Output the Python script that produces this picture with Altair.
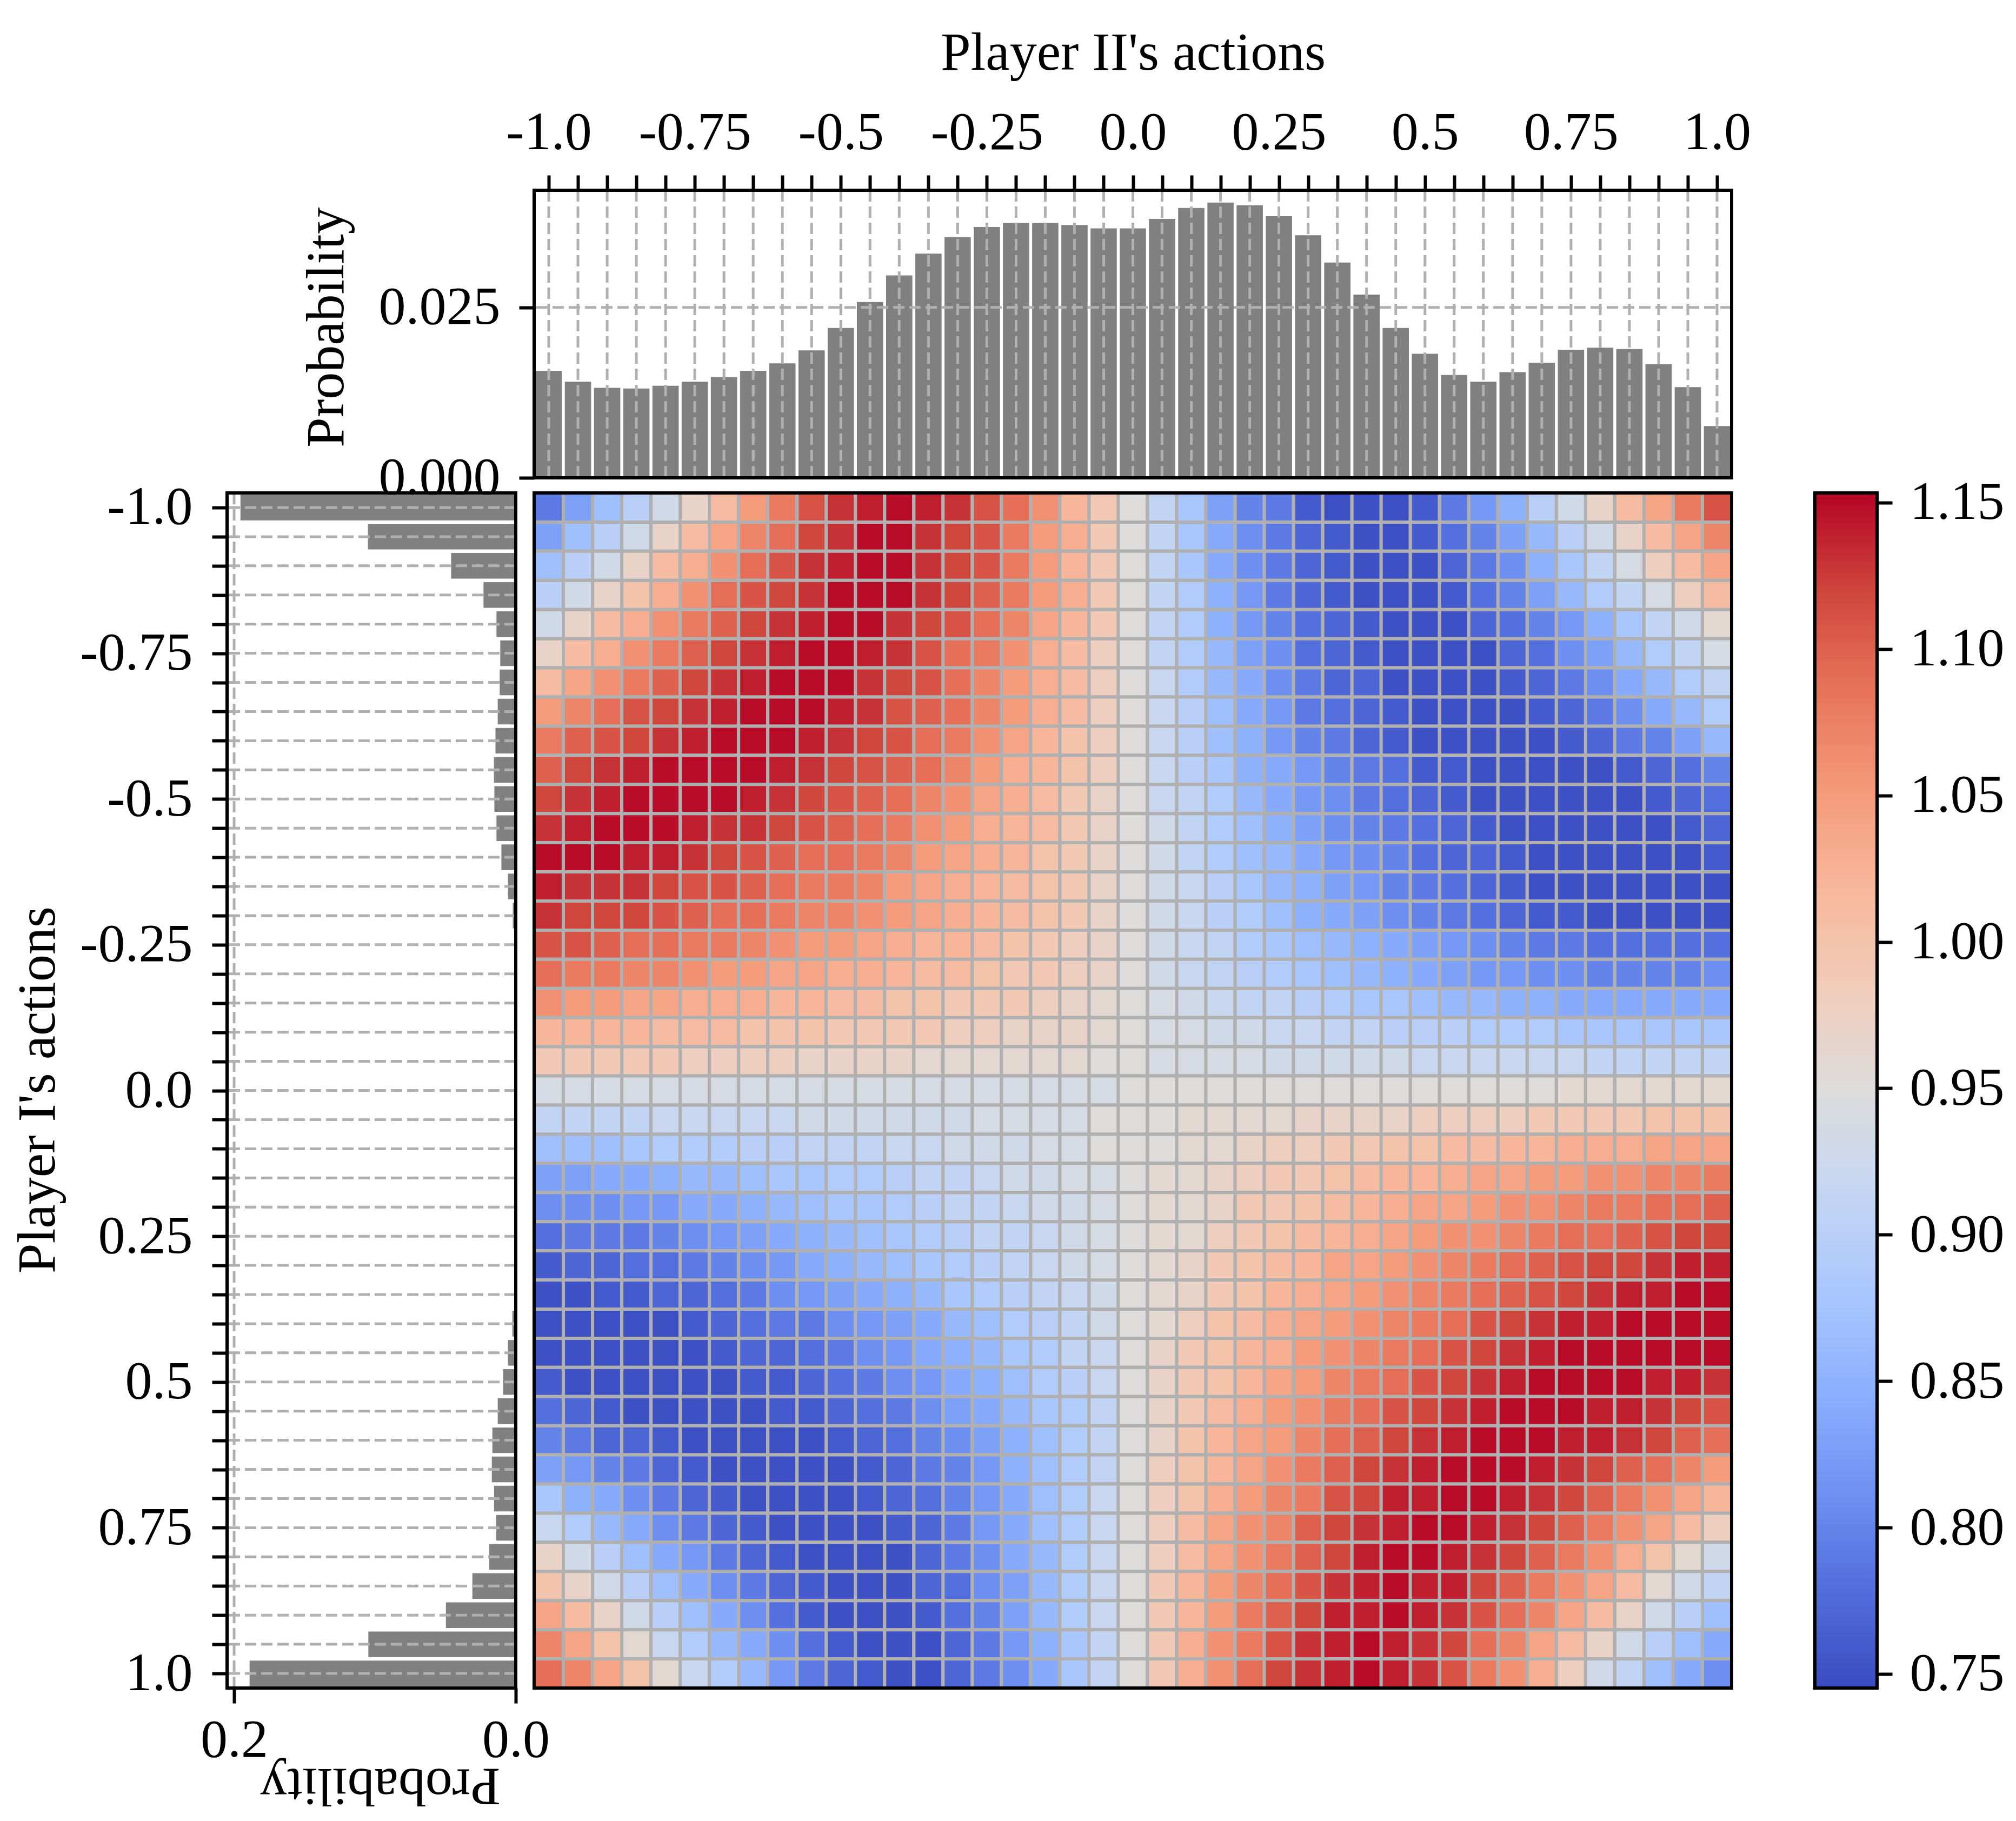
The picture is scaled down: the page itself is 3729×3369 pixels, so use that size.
import altair as alt
import pandas as pd

# ---------------- data ----------------
actions = [-1.0, -0.95, -0.9, -0.85, -0.8, -0.75, -0.7, -0.65, -0.6, -0.55, -0.5,
           -0.45, -0.4, -0.35, -0.3, -0.25, -0.2, -0.15, -0.1, -0.05, 0.0,
           0.05, 0.1, 0.15, 0.2, 0.25, 0.3, 0.35, 0.4, 0.45, 0.5,
           0.55, 0.6, 0.65, 0.7, 0.75, 0.8, 0.85, 0.9, 0.95, 1.0]

tick_label_values = [-1.0, -0.75, -0.5, -0.25, 0.0, 0.25, 0.5, 0.75, 1.0]
tick_label_text = ["-1.0", "-0.75", "-0.5", "-0.25", "0.0", "0.25", "0.5", "0.75", "1.0"]

# Player II marginal (top histogram)
p2_prob = [0.0157, 0.0141, 0.0132, 0.0131, 0.0135, 0.0141, 0.0148, 0.0157, 0.0168, 0.0187,
           0.0220, 0.0258, 0.0297, 0.0329, 0.0353, 0.0368, 0.0374, 0.0374, 0.0371, 0.0366,
           0.0366, 0.0380, 0.0396, 0.0404, 0.0400, 0.0384, 0.0356, 0.0316, 0.0269, 0.0220,
           0.0182, 0.0151, 0.0141, 0.0155, 0.0169, 0.0188, 0.0191, 0.0189, 0.0167, 0.0133,
           0.0076]
top_y_ticks = [0.0, 0.025]
top_y_max = 0.0422

# Player I marginal (left histogram)
p1_prob = [0.1955, 0.1050, 0.0459, 0.0229, 0.0137, 0.0110, 0.0114, 0.0128, 0.0144, 0.0155,
           0.0152, 0.0137, 0.0102, 0.0055, 0.0021, 0.0, 0.0, 0.0, 0.0, 0.0,
           0.0, 0.0, 0.0, 0.0, 0.0, 0.0, 0.0, 0.0, 0.0024, 0.0055,
           0.0090, 0.0128, 0.0166, 0.0170, 0.0154, 0.0139, 0.0189, 0.0308, 0.0496, 0.1047,
           0.1890]
left_x_ticks = [0.0, 0.2]
left_x_max = 0.205

# payoff (x100), rows = Player I action (-1 .. 1), columns Player II -1.0 .. 0.0
payoff_left = [
    [79, 83, 87, 90, 93, 97, 101, 105, 108, 111, 113, 114, 115, 114, 113, 111, 109, 106, 102, 99, 95],
    [83, 87, 90, 93, 97, 101, 104, 107, 109, 112, 113, 115, 115, 113, 112, 111, 108, 105, 103, 99, 95],
    [87, 90, 93, 97, 101, 103, 106, 109, 111, 113, 114, 115, 115, 113, 112, 111, 108, 105, 102, 99, 95],
    [90, 93, 97, 100, 103, 106, 109, 111, 112, 113, 115, 115, 115, 113, 112, 110, 108, 105, 103, 99, 95],
    [93, 97, 101, 103, 106, 108, 110, 112, 113, 114, 115, 115, 113, 112, 111, 109, 107, 104, 102, 99, 95],
    [97, 101, 103, 106, 108, 110, 112, 113, 114, 115, 115, 114, 113, 111, 109, 108, 106, 103, 101, 98, 95],
    [101, 104, 106, 108, 110, 112, 113, 114, 115, 115, 115, 113, 112, 111, 109, 107, 105, 103, 101, 98, 95],
    [105, 107, 109, 111, 112, 113, 114, 115, 115, 115, 114, 113, 111, 110, 109, 107, 105, 103, 101, 98, 95],
    [108, 110, 111, 112, 113, 114, 115, 115, 115, 114, 113, 112, 111, 109, 108, 106, 104, 102, 100, 98, 95],
    [110, 112, 113, 114, 115, 115, 115, 115, 114, 113, 112, 111, 110, 109, 107, 105, 103, 102, 100, 98, 95],
    [112, 113, 114, 115, 115, 115, 115, 114, 113, 112, 111, 110, 109, 107, 106, 104, 103, 101, 99, 97, 95],
    [113, 114, 115, 115, 115, 114, 113, 113, 112, 111, 110, 109, 108, 106, 105, 103, 102, 101, 99, 97, 95],
    [115, 115, 115, 114, 114, 113, 112, 111, 110, 109, 109, 108, 107, 105, 104, 103, 102, 100, 99, 97, 95],
    [114, 113, 113, 113, 112, 111, 111, 110, 109, 108, 108, 107, 105, 104, 103, 102, 101, 100, 99, 97, 95],
    [113, 112, 112, 112, 111, 110, 109, 109, 108, 107, 107, 106, 105, 104, 103, 102, 101, 100, 99, 97, 95],
    [111, 111, 110, 109, 109, 108, 108, 107, 106, 105, 105, 104, 103, 102, 102, 101, 100, 99, 98, 97, 95],
    [109, 108, 108, 107, 107, 106, 105, 105, 104, 104, 103, 103, 102, 101, 101, 100, 99, 99, 98, 97, 95],
    [106, 105, 105, 104, 104, 103, 103, 103, 102, 102, 101, 101, 100, 100, 99, 99, 99, 98, 97, 96, 95],
    [102, 102, 102, 102, 101, 101, 101, 100, 100, 100, 99, 99, 99, 99, 98, 98, 97, 97, 97, 96, 95],
    [99, 99, 99, 99, 99, 98, 98, 98, 98, 97, 97, 97, 97, 96, 96, 96, 96, 96, 96, 95, 95],
    [94, 94, 94, 94, 94, 94, 94, 94, 94, 94, 94, 94, 94, 94, 94, 94, 94, 94, 94, 94, 95],
    [91, 91, 91, 91, 92, 92, 92, 92, 92, 93, 93, 93, 93, 93, 93, 94, 94, 94, 94, 95, 95],
    [87, 87, 87, 88, 89, 89, 89, 90, 90, 91, 91, 91, 92, 92, 93, 93, 93, 94, 94, 95, 95],
    [83, 83, 84, 84, 85, 86, 86, 87, 88, 88, 89, 89, 90, 91, 91, 92, 93, 93, 94, 94, 95],
    [81, 81, 81, 82, 82, 84, 84, 85, 86, 87, 88, 88, 89, 90, 91, 91, 92, 93, 93, 94, 95],
    [78, 79, 79, 79, 80, 81, 82, 83, 84, 85, 86, 87, 88, 89, 90, 91, 91, 92, 93, 94, 95],
    [76, 77, 77, 78, 78, 79, 80, 81, 82, 84, 85, 86, 87, 88, 89, 90, 91, 92, 93, 94, 95],
    [75, 75, 76, 76, 77, 77, 78, 79, 81, 82, 83, 84, 85, 86, 88, 89, 90, 91, 92, 93, 95],
    [75, 75, 75, 75, 75, 76, 77, 78, 79, 79, 81, 82, 83, 84, 86, 87, 89, 90, 91, 93, 95],
    [75, 75, 75, 75, 75, 75, 76, 77, 77, 78, 79, 81, 82, 84, 85, 86, 88, 89, 91, 92, 95],
    [76, 75, 75, 75, 75, 75, 75, 76, 76, 77, 78, 79, 81, 82, 84, 85, 87, 89, 90, 92, 95],
    [78, 77, 76, 75, 75, 75, 75, 75, 76, 76, 77, 78, 79, 81, 83, 84, 86, 88, 89, 91, 95],
    [80, 79, 77, 77, 76, 75, 75, 75, 75, 75, 76, 77, 78, 80, 81, 83, 85, 87, 89, 91, 95],
    [83, 82, 80, 79, 77, 76, 75, 75, 75, 75, 75, 76, 77, 79, 80, 82, 85, 87, 89, 91, 95],
    [88, 85, 84, 81, 79, 77, 76, 75, 75, 75, 75, 76, 77, 78, 80, 82, 84, 87, 89, 92, 95],
    [92, 89, 86, 84, 81, 79, 77, 76, 75, 75, 75, 75, 76, 77, 79, 82, 84, 87, 89, 92, 95],
    [97, 93, 90, 87, 84, 82, 79, 77, 76, 75, 75, 75, 75, 77, 79, 81, 84, 86, 89, 92, 95],
    [100, 97, 93, 90, 87, 84, 81, 79, 77, 76, 75, 75, 75, 77, 78, 81, 83, 86, 89, 92, 95],
    [104, 101, 97, 93, 90, 87, 84, 81, 78, 76, 75, 75, 75, 76, 78, 80, 83, 86, 89, 92, 95],
    [107, 104, 100, 96, 92, 89, 86, 84, 81, 78, 76, 75, 75, 75, 77, 79, 82, 85, 88, 91, 95],
    [109, 107, 104, 100, 96, 92, 89, 86, 82, 79, 77, 76, 75, 75, 77, 79, 81, 84, 88, 91, 95],
]

# payoff (x100), columns Player II 0.05 .. 1.0
payoff_right = [
    [91, 88, 83, 80, 79, 76, 75, 75, 75, 76, 79, 82, 85, 90, 93, 97, 101, 104, 108, 111],
    [91, 88, 84, 81, 79, 77, 76, 75, 75, 76, 78, 80, 83, 86, 90, 93, 97, 101, 104, 107],
    [91, 88, 84, 81, 79, 77, 76, 75, 75, 75, 77, 79, 81, 85, 88, 91, 94, 98, 101, 104],
    [91, 89, 85, 82, 79, 77, 76, 75, 75, 75, 76, 78, 80, 83, 86, 89, 91, 94, 98, 101],
    [91, 89, 85, 82, 80, 78, 77, 76, 75, 75, 75, 77, 78, 80, 82, 85, 88, 91, 93, 96],
    [91, 89, 86, 83, 81, 78, 77, 76, 75, 75, 75, 75, 77, 78, 81, 83, 86, 89, 91, 94],
    [92, 89, 86, 84, 81, 79, 77, 77, 75, 75, 75, 75, 76, 77, 79, 81, 84, 86, 89, 91],
    [92, 90, 87, 84, 82, 79, 78, 77, 76, 75, 75, 75, 75, 76, 77, 79, 81, 84, 86, 89],
    [92, 90, 87, 85, 82, 80, 79, 77, 76, 75, 75, 75, 75, 75, 76, 77, 79, 80, 83, 86],
    [92, 90, 88, 85, 84, 82, 80, 79, 78, 76, 76, 75, 75, 75, 75, 75, 76, 77, 78, 80],
    [92, 91, 89, 86, 84, 82, 81, 79, 78, 77, 76, 75, 75, 75, 75, 75, 75, 76, 77, 78],
    [93, 91, 89, 87, 85, 83, 81, 80, 79, 78, 77, 76, 75, 75, 75, 75, 75, 75, 76, 77],
    [93, 91, 89, 87, 86, 84, 82, 81, 80, 78, 77, 77, 76, 75, 75, 75, 75, 75, 75, 76],
    [93, 92, 90, 88, 86, 85, 83, 82, 80, 79, 78, 77, 76, 75, 75, 75, 75, 75, 75, 75],
    [93, 92, 90, 89, 87, 85, 84, 83, 81, 80, 79, 78, 77, 76, 76, 75, 75, 75, 75, 75],
    [93, 92, 91, 89, 88, 87, 86, 85, 84, 83, 82, 81, 80, 79, 79, 78, 78, 78, 78, 78],
    [93, 92, 91, 90, 89, 88, 87, 86, 85, 84, 83, 82, 82, 81, 81, 80, 80, 80, 80, 81],
    [94, 93, 92, 91, 91, 90, 89, 88, 88, 87, 86, 86, 85, 85, 84, 84, 84, 84, 84, 84],
    [94, 94, 93, 93, 92, 92, 91, 91, 90, 90, 90, 89, 89, 89, 88, 88, 88, 88, 88, 88],
    [94, 94, 94, 94, 93, 93, 93, 93, 93, 92, 92, 92, 92, 92, 92, 91, 91, 91, 91, 91],
    [95, 95, 95, 95, 95, 95, 95, 95, 95, 95, 95, 95, 95, 95, 96, 96, 96, 96, 96, 96],
    [95, 96, 96, 96, 96, 97, 97, 97, 97, 98, 98, 98, 98, 99, 99, 99, 99, 100, 100, 100],
    [95, 96, 96, 97, 98, 98, 99, 99, 100, 100, 101, 101, 102, 102, 103, 103, 103, 104, 104, 104],
    [96, 96, 97, 98, 99, 99, 100, 101, 102, 102, 103, 104, 104, 105, 105, 106, 106, 107, 107, 108],
    [96, 96, 97, 99, 99, 100, 101, 102, 103, 104, 104, 105, 106, 106, 107, 108, 108, 109, 109, 110],
    [96, 96, 98, 99, 100, 101, 102, 103, 104, 105, 106, 106, 107, 108, 109, 109, 110, 111, 112, 112],
    [96, 97, 99, 100, 101, 102, 104, 104, 105, 106, 107, 108, 109, 110, 111, 112, 112, 113, 114, 114],
    [96, 97, 99, 100, 102, 103, 104, 105, 106, 107, 108, 109, 110, 111, 112, 113, 114, 114, 115, 115],
    [96, 98, 100, 101, 103, 104, 105, 106, 107, 108, 109, 111, 112, 113, 114, 114, 115, 115, 115, 115],
    [97, 99, 100, 102, 103, 105, 106, 107, 108, 109, 111, 112, 113, 114, 115, 115, 115, 115, 115, 115],
    [97, 99, 100, 102, 104, 105, 107, 108, 109, 111, 112, 113, 114, 115, 115, 115, 115, 114, 114, 113],
    [97, 99, 101, 103, 105, 106, 108, 109, 111, 112, 113, 114, 115, 115, 115, 114, 114, 113, 112, 111],
    [97, 100, 102, 104, 105, 107, 109, 110, 112, 113, 114, 115, 115, 115, 114, 114, 113, 112, 110, 109],
    [98, 100, 102, 104, 106, 108, 110, 112, 113, 114, 115, 115, 115, 114, 113, 112, 110, 109, 107, 105],
    [98, 100, 103, 105, 107, 108, 111, 112, 114, 114, 115, 115, 114, 113, 112, 110, 108, 106, 104, 102],
    [98, 101, 104, 106, 107, 110, 112, 113, 114, 115, 115, 114, 113, 112, 110, 108, 106, 104, 101, 98],
    [98, 101, 104, 106, 108, 110, 112, 114, 115, 115, 114, 113, 112, 110, 108, 106, 103, 100, 96, 93],
    [99, 102, 105, 107, 109, 111, 113, 114, 115, 114, 114, 112, 110, 108, 106, 104, 101, 96, 93, 91],
    [99, 102, 105, 108, 110, 112, 114, 114, 115, 114, 113, 111, 109, 107, 104, 101, 97, 93, 90, 87],
    [99, 103, 106, 108, 111, 113, 114, 115, 114, 113, 112, 109, 107, 104, 101, 97, 93, 90, 87, 84],
    [99, 103, 106, 109, 112, 113, 114, 115, 114, 113, 111, 108, 106, 103, 98, 93, 91, 87, 84, 81],
]

# colour bar
cb_ticks = [0.75, 0.80, 0.85, 0.90, 0.95, 1.00, 1.05, 1.10, 1.15]
vmin, vmax = 0.7452, 1.1533
cmap_pos = [0.0, 1 / 12, 1 / 6, 0.25, 1 / 3, 5 / 12, 0.5, 7 / 12, 2 / 3, 0.75, 5 / 6, 11 / 12, 1.0]
cmap_colors = ["#3b4cc0", "#536edd", "#6f92f3", "#8db0fe", "#aac7fd", "#c5d6f2", "#dddcdc",
               "#f0cdbb", "#f7b89c", "#f49a7b", "#e7745b", "#d0473d", "#b40426"]

# ---------------- style ----------------
FONT = "Liberation Serif"
FS = 100
GRID = "#b0b0b0"
FRAME_W = 6
ax_common = dict(labelFont=FONT, titleFont=FONT, labelFontSize=FS, titleFontSize=FS,
                 titleFontWeight="normal", labelColor="black", titleColor="black",
                 tickColor="black", tickWidth=6, tickSize=28, domain=False, grid=False,
                 labelOverlap=False, labelFlush=False, labelLimit=3000, zindex=1)


def lab_expr(vals, texts):
    parts = [f"abs(datum.value - ({v})) < 0.001 ? '{t}'" for v, t in zip(vals, texts)]
    return " : ".join(parts) + " : ''"


action_labels = lab_expr(tick_label_values, tick_label_text)
half = 0.025
act_dom = [-1.025, 1.025]

TOP_W, TOP_H = 2215, 532
LEFT_W, MAIN_H = 534, 2211
HEAT_W, CB_W = 2215, 115


def grid_rule():
    return dict(color=GRID, strokeWidth=5, strokeDash=[21, 9])


# ---------------- top histogram (Player II) ----------------
top_df = pd.DataFrame({"a": actions, "p": p2_prob})
top_df["x0"] = top_df["a"] - 0.9 * half
top_df["x1"] = top_df["a"] + 0.9 * half

top_x = alt.Scale(domain=act_dom, nice=False, zero=False)
top_y = alt.Scale(domain=[0, top_y_max], nice=False)

top_bars = alt.Chart(top_df).mark_rect(color="#808080").encode(
    x=alt.X("x0:Q", scale=top_x,
            axis=alt.Axis(orient="top", values=actions, labelExpr=action_labels,
                          title="Player II's actions", labelPadding=28,
                          titlePadding=46, **ax_common)),
    x2="x1:Q",
    y=alt.Y("p:Q", scale=top_y,
            axis=alt.Axis(values=top_y_ticks, format=".3f", title="Probability",
                          labelPadding=35, titleX=-333, titleY=253, **ax_common)),
    y2=alt.datum(0),
)
top_vgrid = alt.Chart(pd.DataFrame({"x0": actions})).mark_rule(**grid_rule()).encode(
    x=alt.X("x0:Q", scale=top_x))
top_hgrid = alt.Chart(pd.DataFrame({"p": [v for v in top_y_ticks if v > 0]})).mark_rule(
    **grid_rule()).encode(y=alt.Y("p:Q", scale=top_y))
top_frame = alt.Chart(pd.DataFrame({"x0": [act_dom[0]], "x1": [act_dom[1]], "p": [top_y_max]})
                      ).mark_rect(fillOpacity=0, stroke="black", strokeWidth=FRAME_W).encode(
    x=alt.X("x0:Q", scale=top_x), x2="x1:Q", y=alt.Y("p:Q", scale=top_y), y2=alt.datum(0))
top_hist = alt.layer(top_bars, top_vgrid, top_hgrid, top_frame).properties(width=TOP_W, height=TOP_H)

# ---------------- left histogram (Player I) ----------------
left_df = pd.DataFrame({"a": actions, "p": p1_prob})
left_df["y0"] = left_df["a"] - 0.88 * half
left_df["y1"] = left_df["a"] + 0.88 * half

left_x = alt.Scale(domain=[0, left_x_max], reverse=True, nice=False)
left_y = alt.Scale(domain=act_dom, reverse=True, nice=False, zero=False)

left_bars = alt.Chart(left_df).mark_rect(color="#808080").encode(
    x=alt.X("p:Q", scale=left_x,
            axis=alt.Axis(orient="bottom", values=left_x_ticks, format=".1f",
                          title="Probability", titleAngle=180, titleBaseline="bottom",
                          titleX=283, titleY=128, labelPadding=19, **ax_common)),
    x2=alt.datum(0),
    y=alt.Y("y0:Q", scale=left_y,
            axis=alt.Axis(orient="left", values=actions, labelExpr=action_labels,
                          title="Player I's actions", labelPadding=36,
                          titleX=-299, titleY=1104, **ax_common)),
    y2="y1:Q",
)
left_hgrid = alt.Chart(pd.DataFrame({"y0": actions})).mark_rule(**grid_rule()).encode(
    y=alt.Y("y0:Q", scale=left_y))
left_vgrid = alt.Chart(pd.DataFrame({"p": [v for v in left_x_ticks if v > 0]})).mark_rule(
    **grid_rule()).encode(x=alt.X("p:Q", scale=left_x))
left_frame = alt.Chart(pd.DataFrame({"p": [left_x_max], "y0": [act_dom[0]], "y1": [act_dom[1]]})
                       ).mark_rect(fillOpacity=0, stroke="black", strokeWidth=FRAME_W).encode(
    x=alt.X("p:Q", scale=left_x), x2=alt.datum(0), y=alt.Y("y0:Q", scale=left_y), y2="y1:Q")
left_hist = alt.layer(left_bars, left_hgrid, left_vgrid, left_frame).properties(width=LEFT_W, height=MAIN_H)

# ---------------- heatmap ----------------
rows = []
for i, ya in enumerate(actions):
    full_row = payoff_left[i] + payoff_right[i]
    for j, xa in enumerate(actions):
        rows.append({"x0": xa - half, "x1": xa + half, "y0": ya - half, "y1": ya + half,
                     "v": full_row[j] / 100.0})
heat_df = pd.DataFrame(rows)

heat_x = alt.Scale(domain=act_dom, nice=False, zero=False)
heat_y = alt.Scale(domain=act_dom, reverse=True, nice=False, zero=False)
cdom = [vmin + t * (vmax - vmin) for t in cmap_pos]

heat_cells = alt.Chart(heat_df).mark_rect(stroke=GRID, strokeWidth=6).encode(
    x=alt.X("x0:Q", scale=heat_x, axis=None),
    x2="x1:Q",
    y=alt.Y("y0:Q", scale=heat_y, axis=None),
    y2="y1:Q",
    color=alt.Color("v:Q", scale=alt.Scale(domain=cdom, range=cmap_colors, interpolate="rgb",
                                           nice=False, zero=False, clamp=True), legend=None),
)
heat_frame = alt.Chart(pd.DataFrame({"x0": [act_dom[0]], "x1": [act_dom[1]],
                                     "y0": [act_dom[0]], "y1": [act_dom[1]]})
                       ).mark_rect(fillOpacity=0, stroke="black", strokeWidth=FRAME_W).encode(
    x=alt.X("x0:Q", scale=heat_x, axis=None), x2="x1:Q",
    y=alt.Y("y0:Q", scale=heat_y, axis=None), y2="y1:Q")
heat = alt.layer(heat_cells, heat_frame).properties(width=HEAT_W, height=MAIN_H)

# ---------------- colour bar ----------------
grad = alt.LinearGradient(
    gradient="linear",
    stops=[alt.GradientStop(color=c, offset=o) for o, c in zip(cmap_pos, cmap_colors)],
    x1=0, x2=0, y1=1, y2=0,
)
cb_df = pd.DataFrame({"lo": [vmin], "hi": [vmax], "l": [0], "r": [1]})
cbar = alt.Chart(cb_df).mark_rect(fill=grad, stroke="black", strokeWidth=FRAME_W).encode(
    x=alt.X("l:Q", scale=alt.Scale(domain=[0, 1], nice=False), axis=None),
    x2="r:Q",
    y=alt.Y("lo:Q", scale=alt.Scale(domain=[vmin, vmax], nice=False, zero=False),
            axis=alt.Axis(orient="right", values=cb_ticks, format=".2f", title="",
                          labelPadding=32, **ax_common)),
    y2="hi:Q",
).properties(width=CB_W, height=MAIN_H)


def spacer(w, h):
    return alt.Chart(pd.DataFrame({"s": [0]})).mark_point(opacity=0).encode(
        x=alt.X("s:Q", axis=None), y=alt.Y("s:Q", axis=None)
    ).properties(width=w, height=h)


chart = alt.concat(
    spacer(LEFT_W, TOP_H), top_hist, spacer(1, TOP_H), spacer(1, TOP_H),
    left_hist, heat, spacer(86, MAIN_H), cbar,
    columns=4, spacing={"row": 28, "column": 34}, bounds="flush", align="each",
).properties(
    padding={"left": 12, "top": 40, "right": 10, "bottom": 10},
    background="white",
).configure_view(strokeOpacity=0)

chart.save("out.html", embed_options={"renderer": "svg", "actions": False})
